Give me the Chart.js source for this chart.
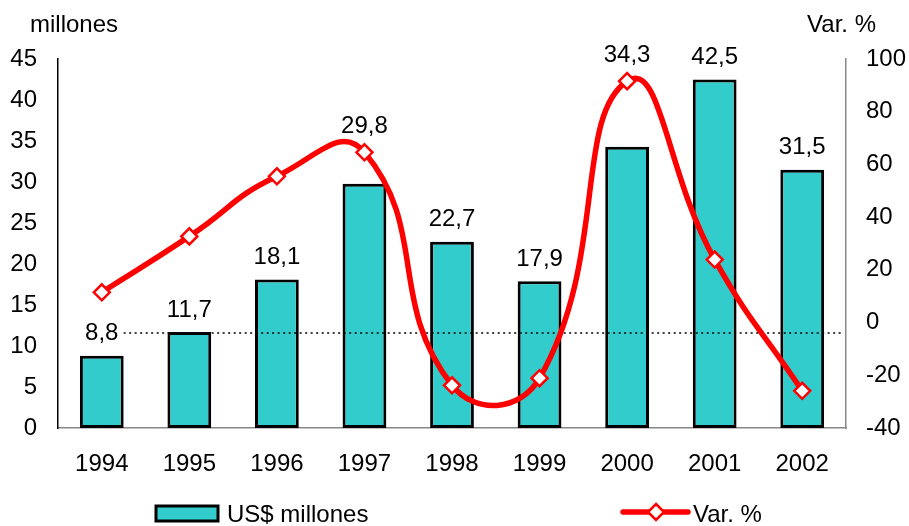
<!DOCTYPE html>
<html>
<head>
<meta charset="utf-8">
<script src="https://cdn.jsdelivr.net/npm/chart.js@4"></script>
<style>
  html, body { margin: 0; padding: 0; background: #fff; }
  #wrap { width: 909px; height: 526px; }
</style>
</head>
<body>
<div id="wrap"><canvas id="chart" width="909" height="526"></canvas></div>
<script>
const years = ["1994", "1995", "1996", "1997", "1998", "1999", "2000", "2001", "2002"];
const montos = [8.8, 11.7, 18.1, 29.8, 22.7, 17.9, 34.3, 42.5, 31.5];
const variacion = [11.5, 32.7, 55.5, 64.6, -23.8, -21.1, 91.6, 23.9, -25.9];
const lineaRef = -4;
// años cuya etiqueta va encima del punto de la linea
const etiquetasSobreLinea = ["1997", "2000"];

const FONT = "'Liberation Sans', Arial, sans-serif";
const teal = "#33CCCC";
const rojo = "#FF0000";

const extras = {
  id: "extras",
  afterDatasetDraw(chart, args) {
    if (args.index !== 1) return;
    // linea punteada de referencia
    const ctx = chart.ctx;
    const y = chart.scales.y1.getPixelForValue(lineaRef);
    const bar0 = chart.getDatasetMeta(1).data[0];
    ctx.save();
    ctx.strokeStyle = "#000";
    ctx.lineWidth = 1.5;
    ctx.setLineDash([2, 3.5]);
    ctx.beginPath();
    ctx.moveTo(bar0.x + bar0.width / 2, y);
    ctx.lineTo(chart.chartArea.right - 3, y);
    ctx.stroke();
    ctx.restore();
  },
  afterDraw(chart) {
    const ctx = chart.ctx;
    ctx.save();
    ctx.font = "24px " + FONT;
    ctx.fillStyle = "#000";

    // valores sobre las barras
    ctx.textAlign = "center";
    ctx.textBaseline = "middle";
    const puntos = chart.getDatasetMeta(0).data;
    chart.getDatasetMeta(1).data.forEach((bar, i) => {
      let y = bar.y - 22;
      if (etiquetasSobreLinea.includes(years[i])) y = puntos[i].y - 26;
      ctx.fillText(montos[i].toFixed(1).replace(".", ","), bar.x, y);
    });

    // titulos de ejes
    ctx.textBaseline = "alphabetic";
    ctx.textAlign = "left";
    ctx.fillText("millones", 30, 32);
    ctx.textAlign = "right";
    ctx.fillText("Var. %", 876, 32);

    // leyenda
    const ds = chart.data.datasets;
    ctx.fillStyle = teal;
    ctx.fillRect(156, 506, 62, 15);
    ctx.strokeStyle = "#000";
    ctx.lineWidth = 3;
    ctx.strokeRect(156, 506, 62, 15);
    ctx.fillStyle = "#000";
    ctx.textAlign = "left";
    ctx.fillText(ds[1].label, 227, 522);

    ctx.strokeStyle = rojo;
    ctx.lineWidth = 5.5;
    ctx.lineCap = "round";
    ctx.beginPath();
    ctx.moveTo(623, 512);
    ctx.lineTo(688, 512);
    ctx.stroke();
    ctx.beginPath();
    ctx.moveTo(656, 504);
    ctx.lineTo(664, 512);
    ctx.lineTo(656, 520);
    ctx.lineTo(648, 512);
    ctx.closePath();
    ctx.fillStyle = "#fff";
    ctx.fill();
    ctx.lineWidth = 2.5;
    ctx.stroke();
    ctx.fillStyle = "#000";
    ctx.fillText(ds[0].label, 693, 522);
    ctx.restore();
  }
};

new Chart(document.getElementById("chart").getContext("2d"), {
  data: {
    labels: years,
    datasets: [
      {
        type: "line",
        label: "Var. %",
        data: variacion,
        yAxisID: "y1",
        borderColor: rojo,
        borderWidth: 5.5,
        tension: 0.5,
        pointStyle: "rectRot",
        pointRadius: 8,
        pointBackgroundColor: "#fff",
        pointBorderColor: rojo,
        pointBorderWidth: 2.5,
        order: 1
      },
      {
        type: "bar",
        label: "US$ millones",
        data: montos,
        yAxisID: "y",
        backgroundColor: teal,
        borderColor: "#000",
        borderWidth: 3,
        borderSkipped: false,
        categoryPercentage: 1,
        barPercentage: 0.5,
        order: 2
      }
    ]
  },
  options: {
    responsive: false,
    animation: false,
    layout: { padding: { top: 59, bottom: 48, left: 0, right: 0 } },
    plugins: {
      legend: { display: false },
      tooltip: { enabled: false }
    },
    scales: {
      x: {
        grid: { display: false, drawTicks: false },
        border: { display: true, color: "#888", width: 1.5 },
        ticks: { color: "#000", font: { family: FONT, size: 24 }, padding: 22 },
        afterFit(s) { s.height = 50; }
      },
      y: {
        position: "left",
        min: 0,
        max: 45,
        grid: { display: false, drawTicks: false },
        border: { display: true, color: "#000", width: 1.5 },
        ticks: { stepSize: 5, color: "#000", font: { family: FONT, size: 24 }, padding: 21 },
        afterFit(s) { s.width = 58; }
      },
      y1: {
        position: "right",
        min: -40,
        max: 100,
        grid: { display: false, drawTicks: false },
        border: { display: true, color: "#888", width: 1.5 },
        ticks: { stepSize: 20, color: "#000", font: { family: FONT, size: 24 }, padding: 20 },
        afterFit(s) { s.width = 63; }
      }
    }
  },
  plugins: [extras]
});
</script>
</body>
</html>
